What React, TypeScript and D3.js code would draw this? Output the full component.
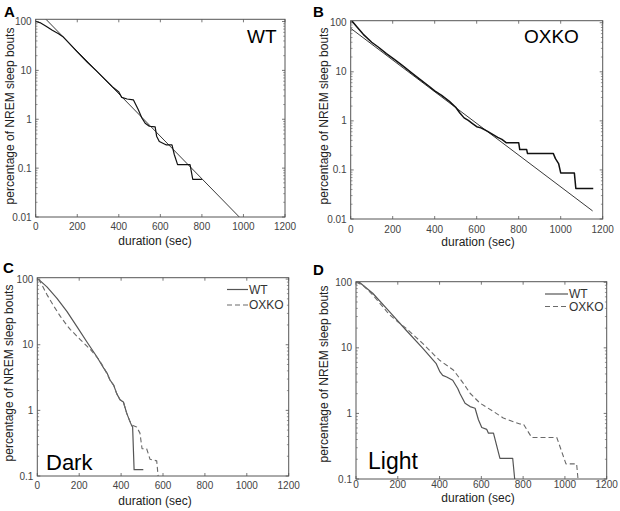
import React from 'react';
import * as d3 from 'd3';

type Pt = [number, number];

const durationTicks = [0, 200, 400, 600, 800, 1000, 1200];
const pctTicksAll = [0.01, 0.1, 1, 10, 100];
const pctTicksSplit = [0.1, 1, 10, 100];
const seriesNames = ['WT', 'OXKO'];
const xAxisTitle = 'duration (sec)';
const yAxisTitle = 'percentage of NREM sleep bouts';

// Panel A: WT, all bouts (empirical + exponential fit)
const wtAllData: Pt[] = [
  [0, 100], [20, 95], [50, 80], [80, 66], [110, 56], [133, 48], [200, 24], [250, 14.5],
  [290, 10], [330, 6.8], [370, 4.6], [400, 3.6], [414, 2.8], [440, 2.6], [470, 2.5],
  [494, 1.56], [511, 1.06], [527, 0.83], [547, 0.72], [575, 0.7], [582, 0.45], [595, 0.35],
  [627, 0.3], [656, 0.3], [667, 0.19], [683, 0.118], [743, 0.118], [756, 0.059], [800, 0.059],
];
const wtAllFit: Pt[] = [[0, 182], [980, 0.01]];

// Panel B: OXKO, all bouts
const oxkoAllData: Pt[] = [
  [5, 110], [30, 82], [60, 58], [100, 40], [131, 32], [170, 23.5], [211, 17.5], [250, 13],
  [290, 9.5], [330, 7], [370, 5.2], [400, 4.1], [433, 3.3], [470, 2.5], [500, 1.9],
  [520, 1.45], [540, 1.15], [560, 1.02], [580, 0.88], [600, 0.76], [620, 0.72], [650, 0.62],
  [680, 0.52], [700, 0.46], [720, 0.42], [740, 0.36], [800, 0.36], [805, 0.26], [838, 0.26],
  [842, 0.215], [965, 0.215], [975, 0.17], [990, 0.135], [1000, 0.087], [1065, 0.087],
  [1072, 0.042], [1155, 0.042],
];
const oxkoAllFit: Pt[] = [[0, 77], [1152, 0.0146]];

// Panel C: Dark period
const darkWT: Pt[] = [
  [5, 100], [46, 76], [94, 51], [142, 32], [190, 18.7], [237, 11], [285, 6.5], [300, 5.4],
  [317, 4.4], [333, 3.7], [347, 2.9], [365, 2.4], [379, 1.8], [395, 1.45], [411, 1.34],
  [427, 0.9], [442, 0.68], [451, 0.58], [455, 0.56], [462, 0.125], [506, 0.125],
];
const darkOXKO: Pt[] = [
  [5, 100], [22, 82], [46, 58], [76, 40], [110, 27], [140, 20], [158, 17], [205, 12],
  [253, 8.5], [293, 6], [317, 4.5], [333, 3.6], [347, 2.9], [365, 2.4], [379, 1.8],
  [395, 1.45], [411, 1.34], [427, 0.9], [442, 0.68], [451, 0.6], [474, 0.56], [490, 0.45],
  [500, 0.26], [522, 0.26], [538, 0.18], [570, 0.17], [578, 0.09],
];

// Panel D: Light period
const lightWT: Pt[] = [
  [0, 105], [16, 100], [80, 68], [160, 35.6], [239, 18.7], [319, 9.9], [383, 5.8],
  [402, 4.3], [415, 3.8], [434, 3.6], [463, 3.2], [487, 2.4], [498, 2.0], [522, 1.43],
  [546, 1.27], [570, 1.2], [586, 0.8], [602, 0.61], [626, 0.57], [634, 0.5], [658, 0.5],
  [689, 0.207], [750, 0.207], [761, 0.09],
];
const lightOXKO: Pt[] = [
  [0, 100], [32, 91], [80, 64], [128, 42.5], [160, 32], [200, 25], [239, 20], [319, 11.7],
  [383, 7.3], [402, 6.4], [466, 4.6], [514, 2.88], [546, 2.03], [594, 1.43], [658, 1.07],
  [705, 0.85], [785, 0.69], [801, 0.69], [841, 0.43], [961, 0.43], [985, 0.26],
  [1005, 0.17], [1056, 0.17], [1064, 0.09],
];

const FONT = '"Liberation Sans", Arial, Helvetica, sans-serif';

interface Series { data: Pt[]; color: string; width: number; dash?: string }
interface PanelProps {
  id: string;
  x0: number; x1: number; y0: number; y1: number;
  yMin: number; yMax: number; yTicks: number[];
  series: Series[];
  letter: string; letterX: number; letterY: number;
  tag: string; tagX: number; tagY: number; tagSize: number;
  xTickBase: number; xLabelX: number; xLabelY: number;
  yLabelX: number; yLabelY: number;
  legend?: { x0: number; x1: number; ys: number[]; tys: number[]; tx: number };
}

function Panel(p: PanelProps) {
  const x = d3.scaleLinear().domain([0, 1200]).range([p.x0, p.x1]);
  const y = d3.scaleLog().domain([p.yMin, p.yMax]).range([p.y1, p.y0]);
  const line = d3.line<Pt>().x(d => x(d[0])).y(d => y(d[1]));
  const minor: number[] = [];
  for (let e = Math.floor(Math.log10(p.yMin)); e <= Math.ceil(Math.log10(p.yMax)); e++) {
    for (let k = 2; k <= 9; k++) {
      const v = k * Math.pow(10, e);
      if (v > p.yMin && v < p.yMax) minor.push(v);
    }
  }
  const tc = '#555';
  return (
    <g>
      <defs>
        <clipPath id={p.id}>
          <rect x={p.x0} y={p.y0} width={p.x1 - p.x0} height={p.y1 - p.y0} />
        </clipPath>
      </defs>
      {durationTicks.map(t => (
        <g key={'xt' + t}>
          <line x1={x(t)} x2={x(t)} y1={p.y1} y2={p.y1 - 3} stroke={tc} strokeWidth={0.8} />
          <line x1={x(t)} x2={x(t)} y1={p.y0} y2={p.y0 + 3} stroke={tc} strokeWidth={0.8} />
          <text x={x(t)} y={p.xTickBase} textAnchor="middle" fontSize={10} fill="#444" fontFamily={FONT}>{t}</text>
        </g>
      ))}
      {p.yTicks.map(t => (
        <g key={'yt' + t}>
          <line x1={p.x0} x2={p.x0 + 3} y1={y(t)} y2={y(t)} stroke={tc} strokeWidth={0.8} />
          <line x1={p.x1} x2={p.x1 - 3} y1={y(t)} y2={y(t)} stroke={tc} strokeWidth={0.8} />
          <text x={p.x0 - 4} y={y(t) + 3.5} textAnchor="end" fontSize={10} fill="#444" fontFamily={FONT}>{String(t)}</text>
        </g>
      ))}
      {minor.map(t => (
        <g key={'ym' + t}>
          <line x1={p.x0} x2={p.x0 + 1.8} y1={y(t)} y2={y(t)} stroke={tc} strokeWidth={0.6} />
          <line x1={p.x1} x2={p.x1 - 1.8} y1={y(t)} y2={y(t)} stroke={tc} strokeWidth={0.6} />
        </g>
      ))}
      <g clipPath={`url(#${p.id})`}>
        {p.series.map((s, i) => (
          <path key={i} d={line(s.data) || ''} fill="none" stroke={s.color} strokeWidth={s.width}
            strokeDasharray={s.dash} strokeLinejoin="round" />
        ))}
      </g>
      <rect x={p.x0} y={p.y0} width={p.x1 - p.x0} height={p.y1 - p.y0} fill="none" stroke="#555" strokeWidth={1} />
      <text x={p.letterX} y={p.letterY} fontSize={15} fontWeight="bold" fontFamily={FONT} fill="#000">{p.letter}</text>
      <text x={p.tagX} y={p.tagY} fontSize={p.tagSize} fontFamily={FONT} fill="#000">{p.tag}</text>
      <text x={p.xLabelX} y={p.xLabelY} textAnchor="middle" fontSize={12} fontFamily={FONT} fill="#222">{xAxisTitle}</text>
      <text transform={`translate(${p.yLabelX},${p.yLabelY}) rotate(-90)`} textAnchor="middle" fontSize={12} fontFamily={FONT} fill="#222">{yAxisTitle}</text>
      {p.legend && p.series.map((s, i) => (
        <g key={'lg' + i}>
          <line x1={p.legend!.x0} x2={p.legend!.x1} y1={p.legend!.ys[i]} y2={p.legend!.ys[i]} stroke={s.color} strokeWidth={s.width} strokeDasharray={s.dash} />
          <text x={p.legend!.tx} y={p.legend!.tys[i]} fontSize={12} fontFamily={FONT} fill="#333">{seriesNames[i]}</text>
        </g>
      ))}
    </g>
  );
}

export default function App() {
  const solidGrey = '#555';
  const dashGrey = '#6a6a6a';
  return (
    <svg width={620} height={511} style={{ position: 'absolute', left: 0, top: 0, background: '#fff' }}>
      <rect width={620} height={511} fill="#fff" />
      <Panel id="clipA" x0={35.7} x1={285} y0={19.3} y1={217} yMin={0.01} yMax={111} yTicks={pctTicksAll}
        series={[{ data: wtAllFit, color: '#222', width: 0.9 }, { data: wtAllData, color: '#111', width: 1.2 }]}
        letter="A" letterX={4} letterY={17} tag={seriesNames[0]} tagX={247} tagY={43} tagSize={19}
        xTickBase={229.5} xLabelX={155} xLabelY={244.5} yLabelX={14} yLabelY={116} />
      <Panel id="clipB" x0={350.7} x1={602.7} y0={20.7} y1={219} yMin={0.01} yMax={110} yTicks={pctTicksAll}
        series={[{ data: oxkoAllFit, color: '#222', width: 0.9 }, { data: oxkoAllData, color: '#111', width: 1.5 }]}
        letter="B" letterX={313} letterY={17} tag={seriesNames[1]} tagX={524} tagY={43} tagSize={19}
        xTickBase={232.5} xLabelX={478} xLabelY={246} yLabelX={328} yLabelY={116} />
      <Panel id="clipC" x0={37.3} x1={288.7} y0={277.7} y1={476} yMin={0.1} yMax={105} yTicks={pctTicksSplit}
        series={[{ data: darkWT, color: solidGrey, width: 1.2 }, { data: darkOXKO, color: dashGrey, width: 1.1, dash: '5,3' }]}
        letter="C" letterX={3} letterY={273} tag="Dark" tagX={46} tagY={470} tagSize={22}
        xTickBase={489} xLabelX={155} xLabelY={505} yLabelX={13} yLabelY={373}
        legend={{ x0: 227, x1: 248, ys: [289.5, 305], tys: [293.5, 309], tx: 249 }} />
      <Panel id="clipD" x0={356} x1={606.7} y0={281.7} y1={479} yMin={0.1} yMax={102} yTicks={pctTicksSplit}
        series={[{ data: lightWT, color: solidGrey, width: 1.2 }, { data: lightOXKO, color: dashGrey, width: 1.1, dash: '5,3' }]}
        letter="D" letterX={313} letterY={275} tag="Light" tagX={368} tagY={469} tagSize={23}
        xTickBase={488} xLabelX={478} xLabelY={501.5} yLabelX={328} yLabelY={374}
        legend={{ x0: 545, x1: 568, ys: [294, 306.5], tys: [298, 310.5], tx: 569 }} />
    </svg>
  );
}
